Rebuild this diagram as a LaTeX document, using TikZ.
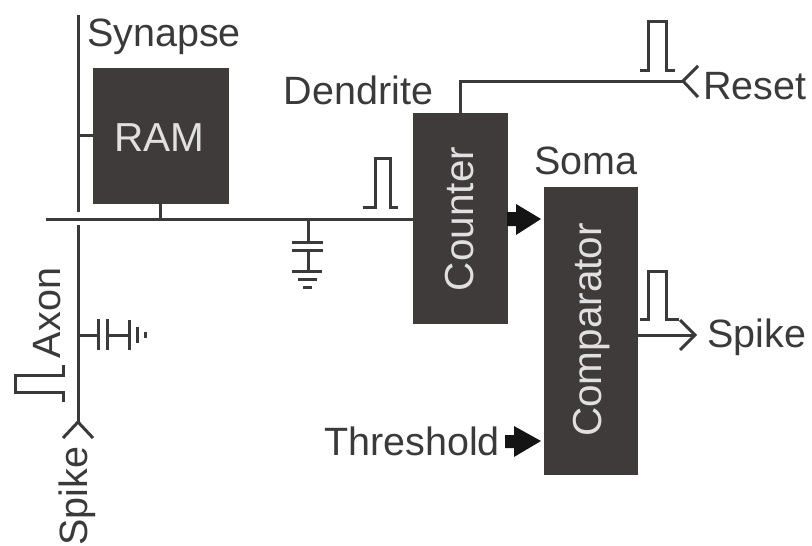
\documentclass[tikz,border=0pt]{standalone}
\usepackage{fontspec}
\setmainfont{Liberation Sans}
\definecolor{boxc}{HTML}{3F3B3B}
\definecolor{inkc}{HTML}{3A3A3A}
\tikzset{
  blockbox/.style={fill=boxc,draw=boxc,line width=1pt,inner sep=0pt,minimum width=#1},
  wire/.style={draw=inkc,line width=3pt,line cap=butt,line join=miter},
  thinw/.style={draw=inkc,line width=3pt},
  lab/.style={text=inkc,font=\fontsize{39.5}{40}\selectfont,inner sep=0pt},
  wlab/.style={text=white!88!black,font=\fontsize{40.5}{41}\selectfont,inner sep=0pt},
  fat/.style={fill=black!92,draw=none}
}
\begin{document}
\begin{tikzpicture}[x=1pt,y=-1pt]
\useasboundingbox (0,0) rectangle (812,546);
% blocks
\node[blockbox=135pt,minimum height=135pt] (ram) at (160.5,135.5) {};
\node[wlab] (ramt) at (159,138) {RAM};
\node[blockbox=94pt,minimum height=210pt] (cnt) at (460,218) {};
\node[wlab,rotate=90] (cntt) at (460,219) {Counter};
\node[blockbox=93pt,minimum height=287pt] (cmp) at (590.5,330.5) {};
\node[wlab,rotate=90] (cmpt) at (592,330) {Comparator};
% labels
\node[lab] (syn) at (164,37) {Synapse};
\node[lab] (den) at (358.5,90) {Dendrite};
\node[lab] (som) at (586,161) {Soma};
\node[lab] (rst) at (755,86) {Reset};
\node[lab] (spo) at (757,337) {Spike};
\node[lab] (thr) at (412,441) {Threshold};
\node[lab,rotate=90] (axo) at (47,313) {Axon};
\node[lab,rotate=90] (spi) at (77,496) {Spike};
% junction and end coordinates
\coordinate (axtop) at (78,15);
\coordinate (axgap1) at (78,212);
\coordinate (axgap2) at (78,225);
\coordinate (axin) at (78,422);
\coordinate (busl) at (46,219);
\coordinate (busr) at (cnt.west |- 0,219);
\coordinate (rstin) at (683,81);
\coordinate (spout) at (695,335);
% axon and bus
\draw[wire] (axtop) -- (axgap1);
\draw[wire] (axgap2) -- (axin);
\draw[wire] (busl) -- (busr);
\draw[wire] (78,135) -- (ram.west |- 0,135);
\draw[wire] (ram.south -| 160,0) -- (160,219);
% chevrons
\draw[wire] (63,438) -- (axin) -- (93,438);
\draw[wire] (698,66) -- (rstin) -- (698,97);
\draw[wire] (680,320) -- (spout) -- (680,350);
% reset and output wires
\draw[wire] (cnt.north) -- (460,81) -- (rstin);
\draw[wire] (cmp.east |- spout) -- (spout);
% pulses
\draw[thinw] (363,207) -- (375,207) -- (375,158) -- (390,158) -- (390,207) -- (398,207);
\draw[thinw] (640,70) -- (648,70) -- (648,21) -- (666,21) -- (666,70) -- (675,70);
\draw[thinw] (640,319) -- (648,319) -- (648,271) -- (666,271) -- (666,319) -- (679,319);
\draw[thinw] (63,365) -- (63,375) -- (15,375) -- (15,392) -- (63,392) -- (63,402);
% bus capacitor
\draw[wire] (308,219) -- (308,242);
\draw[wire] (292,242) -- (323,242);
\draw[wire] (292,250) -- (323,250);
\draw[wire] (308,250) -- (308,271);
\draw[wire] (292,271) -- (322,271);
\draw[wire] (298,279) -- (317,279);
\draw[wire] (303,287) -- (312,287);
% axon capacitor
\draw[wire] (78,335) -- (98,335);
\draw[wire] (98,319) -- (98,350);
\draw[wire] (107,319) -- (107,350);
\draw[wire] (107,335) -- (129,335);
\draw[wire] (129,320) -- (129,350);
\draw[wire] (137,327) -- (137,343);
\draw[wire] (145,332) -- (145,338);
% fat arrows
\fill[fat] (507,212) -- (516,212) -- (516,204) -- (541,219) -- (516,235) -- (516,226) -- (507,226) -- cycle;
\fill[fat] (505,435) -- (514,435) -- (514,426) -- (541,441) -- (514,457) -- (514,448) -- (505,448) -- cycle;
\end{tikzpicture}
\end{document}
